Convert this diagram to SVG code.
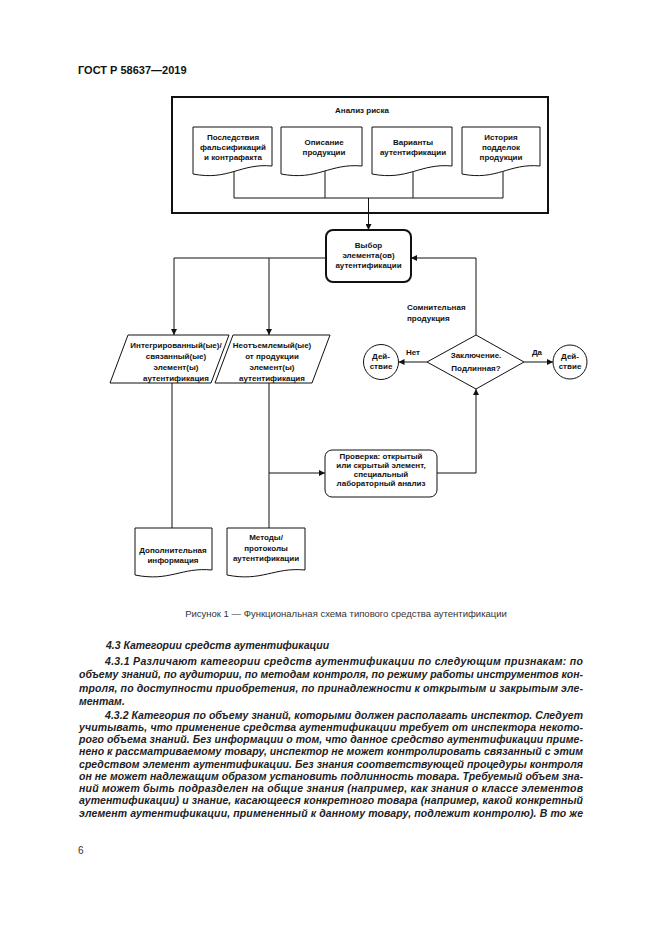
<svg xmlns="http://www.w3.org/2000/svg" width="661" height="935" viewBox="0 0 661 935">
<defs>
<marker id="arr" markerWidth="6" markerHeight="6" refX="6" refY="3" orient="auto" markerUnits="userSpaceOnUse">
<path d="M0,0 L6,3 L0,6 Z" fill="#111"/>
</marker>
<style>
.t{font-family:"Liberation Sans",Arial,sans-serif;font-size:8px;font-weight:bold;fill:#111;text-anchor:middle}
.tl{font-family:"Liberation Sans",Arial,sans-serif;font-size:8px;font-weight:bold;fill:#111}
.s{fill:#fff;stroke:#111;stroke-width:1}
.b{fill:#fff;stroke:#111;stroke-width:2}
.c{fill:none;stroke:#111;stroke-width:1}
.body{font-family:"Liberation Sans",Arial,sans-serif;font-size:10.5px;font-weight:bold;font-style:italic;fill:#222}
.cap{font-family:"Liberation Sans",Arial,sans-serif;font-size:9.5px;fill:#333;text-anchor:middle}
</style>
</defs>
<rect width="661" height="935" fill="#fff"/>
<text x="78" y="74" font-family="Liberation Sans,Arial,sans-serif" font-size="11" font-weight="bold" fill="#111">ГОСТ Р 58637—2019</text>

<g id="risk-analysis">
<rect class="b" x="172" y="97" width="376" height="116"/>
<text class="t" x="362" y="113">Анализ риска</text>
</g>

<g id="connectors">
<path class="c" d="M234,168 V198 H503 V168 M325,168 V198 M413,168 V198"/>
<path class="c" d="M368.5,198 V230" marker-end="url(#arr)"/>
<path class="c" d="M326,258 H174 V335" marker-end="url(#arr)"/>
<path class="c" d="M269,258 V335" marker-end="url(#arr)"/>
<path class="c" d="M476,335 V258 H411" marker-end="url(#arr)"/>
<path class="c" d="M427,362 H398.5" marker-end="url(#arr)"/>
<path class="c" d="M524,362 H553" marker-end="url(#arr)"/>
<path class="c" d="M437,473 H476 V389" marker-end="url(#arr)"/>
<path class="c" d="M172,383 V528"/>
<path class="c" d="M269,383 V528"/>
<path class="c" d="M269,473 H325" marker-end="url(#arr)"/>
</g>

<g id="doc-consequences">
<path class="s" d="M193,127 H272 V166 C240.4,163 228.6,181 193,174 Z"/>
<text class="t" x="233" y="140">Последствия</text>
<text class="t" x="233" y="150">фальсификаций</text>
<text class="t" x="233" y="160">и контрафакта</text>
</g>
<g id="doc-description">
<path class="s" d="M281,127 H362 V166 C329.6,163 317.5,181 281,174 Z"/>
<text class="t" x="324" y="145">Описание</text>
<text class="t" x="324" y="155">продукции</text>
</g>
<g id="doc-variants">
<path class="s" d="M372,127 H452 V166 C420,163 408,181 372,174 Z"/>
<text class="t" x="413" y="145">Варианты</text>
<text class="t" x="413" y="155">аутентификации</text>
</g>
<g id="doc-history">
<path class="s" d="M462,127 H540 V166 C508.8,163 497.1,181 462,174 Z"/>
<text class="t" x="501" y="140">История</text>
<text class="t" x="501" y="150">подделок</text>
<text class="t" x="501" y="160">продукции</text>
</g>

<g id="select">
<rect class="b" x="326" y="230" width="85" height="52" rx="7"/>
<text class="t" x="368.5" y="248">Выбор</text>
<text class="t" x="368.5" y="258">элемента(ов)</text>
<text class="t" x="368.5" y="268">аутентификации</text>
</g>

<g id="integrated">
<polygon class="s" points="128,335 229,335 211,383 110,383"/>
<text class="t" x="176" y="348">Интегрированный(ые)/</text>
<text class="t" x="176" y="359">связанный(ые)</text>
<text class="t" x="176" y="370">элемент(ы)</text>
<text class="t" x="176" y="381">аутентификация</text>
</g>
<g id="inherent">
<polygon class="s" points="233,335 330,335 312,383 215,383"/>
<text class="t" x="272" y="348">Неотъемлемый(ые)</text>
<text class="t" x="272" y="359">от продукции</text>
<text class="t" x="272" y="370">элемент(ы)</text>
<text class="t" x="272" y="381">аутентификация</text>
</g>

<g id="doubtful-label">
<text class="tl" x="407" y="310">Сомнительная</text>
<text class="tl" x="407" y="321">продукция</text>
</g>

<g id="decision">
<polygon class="s" points="476,335 524,362 476,389 427,362"/>
<text class="t" x="476" y="358">Заключение.</text>
<text class="t" x="476" y="371">Подлинная?</text>
<text class="t" x="413" y="355">Нет</text>
<text class="t" x="537" y="355">Да</text>
</g>

<g id="action-no">
<circle class="s" cx="381" cy="362" r="17.5"/>
<text class="t" x="381" y="359">Дей-</text>
<text class="t" x="381" y="369">ствие</text>
</g>
<g id="action-yes">
<circle class="s" cx="570" cy="362" r="17"/>
<text class="t" x="570" y="359">Дей-</text>
<text class="t" x="570" y="369">ствие</text>
</g>

<g id="check">
<rect class="s" x="325" y="450" width="112" height="47" rx="7"/>
<text class="t" x="381" y="459">Проверка: открытый</text>
<text class="t" x="381" y="468">или скрытый элемент,</text>
<text class="t" x="381" y="477">специальный</text>
<text class="t" x="381" y="486">лабораторный анализ</text>
</g>

<g id="doc-additional">
<path class="s" d="M135,528 H212 V570 C181.2,567 169.7,582 135,575 Z"/>
<text class="t" x="173" y="553">Дополнительная</text>
<text class="t" x="173" y="563">информация</text>
</g>
<g id="doc-methods">
<path class="s" d="M227,528 H305 V570 C273.8,567 262.1,582 227,575 Z"/>
<text class="t" x="266" y="540">Методы/</text>
<text class="t" x="266" y="551">протоколы</text>
<text class="t" x="266" y="561">аутентификации</text>
</g>

<text class="cap" x="346" y="616.5">Рисунок 1 — Функциональная схема типового средства аутентификации</text>

<g id="body-text">
<text class="body" x="106" y="648.5">4.3  Категории средств аутентификации</text>
<text class="body" x="105" y="664.5" textLength="478" lengthAdjust="spacing">4.3.1 Различают категории средств аутентификации по следующим признакам: по</text>
<text class="body" x="79" y="678" textLength="504" lengthAdjust="spacing">объему знаний, по аудитории, по методам контроля, по режиму работы инструментов кон-</text>
<text class="body" x="79" y="691.5" textLength="504" lengthAdjust="spacing">троля, по доступности приобретения, по принадлежности к открытым и закрытым эле-</text>
<text class="body" x="79" y="705">ментам.</text>
<text class="body" x="105" y="718.5" textLength="478" lengthAdjust="spacing">4.3.2 Категория по объему знаний, которыми должен располагать инспектор. Следует</text>
<text class="body" x="79" y="730.75" textLength="504" lengthAdjust="spacing">учитывать, что применение средства аутентификации требует от инспектора некото-</text>
<text class="body" x="79" y="743" textLength="504" lengthAdjust="spacing">рого объема знаний. Без информации о том, что данное средство аутентификации приме-</text>
<text class="body" x="79" y="755.25" textLength="504" lengthAdjust="spacing">нено к рассматриваемому товару, инспектор не может контролировать связанный с этим</text>
<text class="body" x="79" y="767.5" textLength="504" lengthAdjust="spacing">средством элемент аутентификации. Без знания соответствующей процедуры контроля</text>
<text class="body" x="79" y="779.75" textLength="504" lengthAdjust="spacing">он не может надлежащим образом установить подлинность товара. Требуемый объем зна-</text>
<text class="body" x="79" y="792" textLength="504" lengthAdjust="spacing">ний может быть подразделен на общие знания (например, как знания о классе элементов</text>
<text class="body" x="79" y="804.25" textLength="504" lengthAdjust="spacing">аутентификации) и знание, касающееся конкретного товара (например, какой конкретный</text>
<text class="body" x="79" y="816.5" textLength="504" lengthAdjust="spacing">элемент аутентификации, примененный к данному товару, подлежит контролю). В то же</text>
</g>
<text x="78" y="854" font-family="Liberation Sans,Arial,sans-serif" font-size="10" fill="#333">6</text>
</svg>
